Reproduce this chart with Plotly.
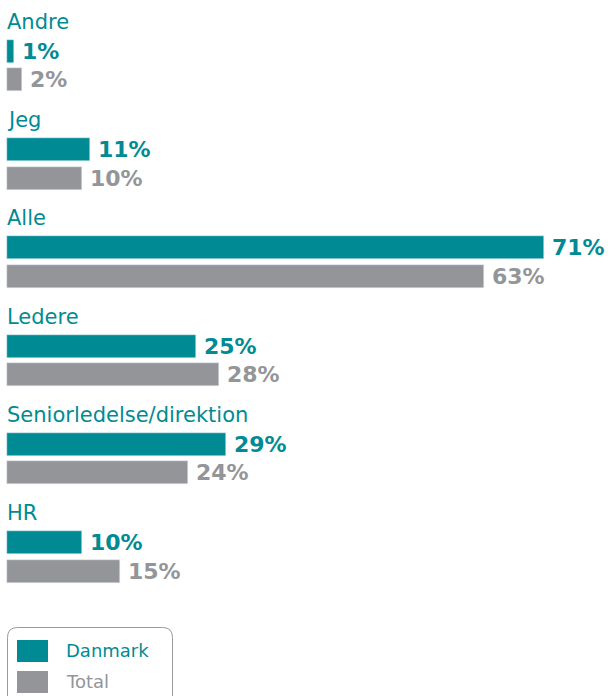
import plotly.graph_objects as go

categories = ["Andre", "Jeg", "Alle", "Ledere", "Seniorledelse/direktion", "HR"]
danmark = [1, 11, 71, 25, 29, 10]
total = [2, 10, 63, 28, 24, 15]
series_names = ["Danmark", "Total"]

TEAL = "#008B94"
GRAY = "#939598"
FONT = "DejaVu Sans"

W, H = 609, 696
x0_px, px_per = 6.7, 7.57
pitch, first, off, bw = 98.3, 51.2, 28.5, 23

yd = [first + pitch * i for i in range(len(categories))]
yt = [y + off for y in yd]

fig = go.Figure()
fig.add_trace(go.Bar(y=yd, x=danmark, orientation="h", width=bw, marker_color=TEAL,
                     name=series_names[0], hoverinfo="x"))
fig.add_trace(go.Bar(y=yt, x=total, orientation="h", width=bw, marker_color=GRAY,
                     name=series_names[1], hoverinfo="x"))

ann = []
for c, y, d, t, y2 in zip(categories, yd, danmark, total, yt):
    ann.append(dict(x=0, y=y - bw / 2 - 3, xref="x", yref="y", text=c, showarrow=False,
                    xanchor="left", yanchor="bottom", xshift=-2, yshift=1,
                    font=dict(family=FONT, size=21, color=TEAL)))
    ann.append(dict(x=d, y=y, xref="x", yref="y", text=f"<b>{d}%</b>", showarrow=False,
                    xanchor="left", yanchor="middle", xshift=6,
                    font=dict(family=FONT, size=22, color=TEAL)))
    ann.append(dict(x=t, y=y2, xref="x", yref="y", text=f"<b>{t}%</b>", showarrow=False,
                    xanchor="left", yanchor="middle", xshift=6,
                    font=dict(family=FONT, size=22, color=GRAY)))

# custom legend
shapes = []
r = 10
lx0, ly0, lx1, ly1 = 7.5, 627.5, 172.5, 720


def px(x):
    return x / W


def py(y):
    return 1 - y / H


shapes.append(dict(type="path", xref="paper", yref="paper",
                   path=(f"M {px(lx0+r)},{py(ly0)} L {px(lx1-r)},{py(ly0)} "
                         f"Q {px(lx1)},{py(ly0)} {px(lx1)},{py(ly0+r)} "
                         f"L {px(lx1)},{py(ly1)} L {px(lx0)},{py(ly1)} L {px(lx0)},{py(ly0+r)} "
                         f"Q {px(lx0)},{py(ly0)} {px(lx0+r)},{py(ly0)} Z"),
                   line=dict(color="#9a9a9a", width=1), fillcolor="rgba(0,0,0,0)"))
for name, col, sy in [(series_names[0], TEAL, 640), (series_names[1], GRAY, 671)]:
    shapes.append(dict(type="rect", xref="paper", yref="paper",
                       x0=px(17), x1=px(48), y0=py(sy), y1=py(sy + 22),
                       line=dict(width=0), fillcolor=col))
    ann.append(dict(x=px(64), y=py(sy + 10), xref="paper", yref="paper", text=name,
                    showarrow=False, xanchor="left", yanchor="middle",
                    font=dict(family=FONT, size=18, color=col)))

fig.update_layout(
    width=W, height=H, margin=dict(l=0, r=0, t=0, b=0),
    paper_bgcolor="white", plot_bgcolor="white", showlegend=False,
    barmode="overlay", bargap=0,
    xaxis=dict(range=[-x0_px / px_per, (W - x0_px) / px_per], visible=False, fixedrange=True),
    yaxis=dict(range=[H, 0], visible=False, fixedrange=True),
    annotations=ann, shapes=shapes,
    font=dict(family=FONT),
)

fig.write_html("out.html")
